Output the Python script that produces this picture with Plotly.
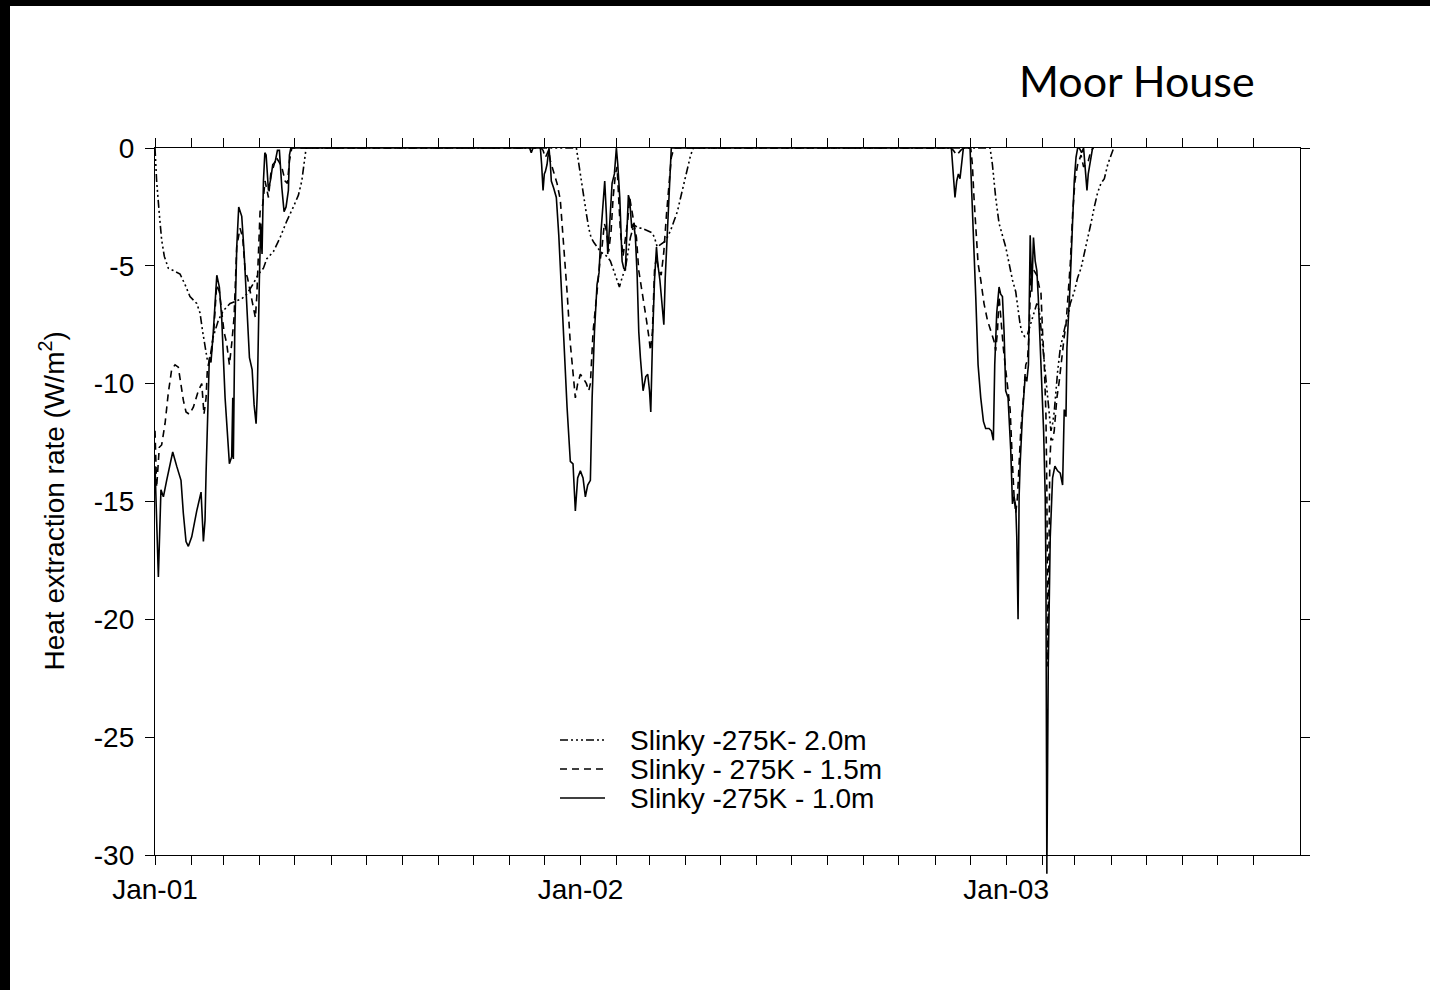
import pandas as pd
import plotly.graph_objects as go

# Heat extraction rate (W/m^2) of a slinky ground heat exchanger at Moor House,
# for three burial depths. Time is given in days from 1 Jan 2001.
START = pd.Timestamp("2001-01-01")

days_2m = [0, 1.4, 3.7, 5.7, 8, 11.4, 15.7, 21.5, 25.8, 30, 35.8, 38.6, 40.9, 42.9, 44.9,
           47.2, 50, 54.4, 58.6, 64.4, 70.1, 74.4, 78.7, 83.8, 88.7, 93, 95.9, 101.5, 107.3,
           113, 118.7, 123, 125.9, 127.9, 129.6,
           361.4, 363.4, 365.4, 367.7, 370, 372, 374, 376.3, 379.1, 382, 384.8, 387.7, 390.6,
           393.5, 396.3, 398.3, 400.6, 403.4, 405.4, 407.7, 410, 412, 414.9, 417.7, 422,
           426.3, 428.4, 430.7, 433.5, 436.4, 439.3, 442.2, 445.1, 448, 450.8, 453.7, 456.6,
           459.4, 461.7,
           716.2, 718.2, 721, 723.9, 726.8, 729.6, 732.5, 735.4, 738.2, 740.2, 742, 744, 746,
           748.3, 750.6, 752.6, 754.6, 756.3, 758.4, 760.4, 762.7, 764.1, 765.5, 767.2, 768.4,
           769.8, 771.2, 772.7, 774.1, 776.4, 778.4, 780.4, 782.7, 785, 788.4, 791.3, 794.2,
           797, 799.9, 802.7, 805.6, 808.4, 811.3, 814.2, 817.1, 820, 822.2]
rate_2m = [0, -1.4, -2.8, -3.9, -4.6, -5.1, -5.2, -5.35, -5.8, -6.3, -6.6, -7.0, -7.8, -8.5, -9.0,
           -8.9, -8.0, -7.3, -6.9, -6.6, -6.5, -6.4, -6.2, -5.8, -5.35, -5.1, -4.7, -4.4, -3.8,
           -3.1, -2.5, -2.0, -1.4, -0.7, 0,
           0, -0.7, -1.4, -2.1, -2.8, -3.4, -3.8, -4.0, -4.2, -4.4, -4.5, -4.6, -4.8,
           -5.2, -5.6, -5.9, -5.5, -5.1, -4.5, -3.8, -3.4, -3.3, -3.4, -3.4, -3.5,
           -3.6, -3.8, -4.2, -4.1, -4.0, -3.8, -3.5, -3.1, -2.7, -2.1, -1.5, -0.8,
           -0.3, 0,
           0, -0.7, -2.1, -3.2, -3.7, -4.2, -4.9, -5.6, -6.1, -6.8, -7.5, -7.9, -8.0,
           -7.9, -7.5, -7.2, -6.9, -6.6, -6.9, -8.0, -9.2, -10.0, -10.6, -11.4, -12.0,
           -11.7, -11.2, -10.3, -9.5, -8.5, -8.0, -7.6, -7.2, -6.6, -6.1, -5.5, -5.1,
           -4.5, -3.8, -3.2, -2.5, -1.9, -1.5, -1.3, -0.7, -0.3, 0]

days_15m = [0, 1.4, 3.7, 5.7, 8.6, 11.4, 14.3, 17.2, 20, 22, 24.3, 26.6, 29.5, 32.9, 37.2, 40.1,
            42, 43.8, 44.9, 46.6, 48.6, 50.6, 52.9, 55.2, 57.2, 59.2, 61.5, 63.8, 65.8, 67.8,
            70.1, 72.9, 75.2, 77.3, 79.3, 81.5, 83.8, 86.1, 87.3, 88.7, 90.1, 92.4, 94.4, 97.3,
            99.3, 101.6, 103.9, 105.9, 108.7, 111.6, 113.6, 115.3, 117.3,
            331.1, 332.8, 334.8, 337.6, 339.1, 341.9, 344.8, 347.6, 350.5, 353.4, 356.2, 358.5,
            360.5, 362.5, 364.8, 367.7, 370, 372, 373.4, 375.7, 377.7, 379.7, 381.4, 383.4,
            385.4, 387.1, 389.1, 391.2, 392.9, 394.9, 396.3, 397.7, 399.1, 401.4, 403.4, 405.4,
            407.1, 409.2, 411.2, 412.9, 414.9, 416.9, 419.2, 421.5, 423.5, 424.9, 426.6, 428.4,
            430.1, 432.1, 434.1, 436.4, 438.7, 440.8, 442.8, 445.1,
            682.4, 684.7, 687.6, 691, 693.3, 699.6, 701, 702.4, 703.9, 705.9, 708.2, 711, 713.9,
            716.7, 719.6, 721, 722.5, 723.9, 725.3, 727.6, 729.6, 731.6, 733.4, 735.4, 736.8,
            738.2, 739.7, 741.1, 742.5, 744.8, 746.8, 748.3, 749.7, 751.1, 752.6, 754, 756.3,
            758.4, 759.8, 761.2, 762.7, 764.1, 764.9, 765.8, 766.6, 767.4, 768.4, 769.8, 771.2,
            773.5, 775.5, 777, 778.4, 779.8, 781.3, 782.7, 785, 787, 789, 791.3, 794.2, 796.4,
            798.4, 800.4, 802.7, 805]
rate_15m = [-12.0, -14.4, -12.7, -12.6, -11.7, -10.4, -9.4, -9.2, -9.3, -10.0, -10.7, -11.2, -11.3,
            -11.0, -10.3, -10.0, -11.3, -10.6, -9.4, -9.0, -8.6, -7.6, -5.8, -6.1, -6.9, -7.8,
            -8.3, -9.2, -8.3, -7.2, -4.2, -3.4, -3.8, -5.2, -5.5, -6.1, -6.6, -7.2, -6.3, -4.5,
            -2.7, -2.4, -1.4, -2.1, -1.1, -0.8, -0.4, -0.55, -0.8, -1.4, -1.5, -0.55, 0,
            0, -0.1, -0.4, -0.1, -0.55, -1.0, -1.5, -2.2, -4.0, -6.1, -8.3, -9.4,
            -10.6, -10.0, -9.6, -9.8, -10.0, -10.3, -10.0, -7.8, -6.9, -5.8, -4.9, -4.2,
            -3.2, -3.5, -4.4, -3.5, -2.1, -1.1, -0.8, -2.1, -3.5, -4.6, -3.9, -3.1,
            -2.1, -2.7, -3.4, -3.8, -5.2, -5.8, -6.6, -7.3, -8.0, -8.6, -7.8, -5.2,
            -4.6, -5.2, -5.4, -4.4, -2.8, -1.4, -0.4, 0,
            0, -0.1, -0.3, -0.1, 0, 0, -0.7, -2.1, -3.5, -4.9, -5.6, -6.6, -7.3,
            -7.8, -8.2, -8.6, -7.8, -6.3, -7.2, -8.5, -9.4, -10.3, -11.1, -13.4, -14.8,
            -15.5, -14.8, -13.4, -12.0, -10.6, -9.2, -9.0, -7.8, -5.4, -5.0, -5.2, -5.4,
            -5.9, -6.1, -7.8, -9.2, -11.3, -14.5, -22.0, -16.0, -13.4, -12.3, -12.4, -12.0,
            -10.6, -9.9, -9.2, -8.5, -8.0, -7.5, -6.6, -4.9, -2.8, -1.4, -0.7, -0.3, -0.8,
            -0.7, -0.55, -0.1, 0]

days_1m = [0, 0.9, 2.9, 5.1, 7.2, 10, 12.9, 15.2, 18.6, 22.3, 24.3, 26.6, 28.6, 31.5, 35.8, 39.5,
           41.5, 42.9, 43.8, 44.9, 46.6, 48, 50, 53, 55.2, 57.2, 60.1, 63.8, 65.8, 66.7, 67.2,
           68.4, 70.1, 71.8, 74.4, 76.4, 78.7, 81, 83.3, 85, 86.7, 87.8, 89.5, 90.7, 91.8, 93,
           94.2, 95.3, 97.3, 99.3, 101, 103, 105, 106.7, 108.8, 110.7, 112.4, 114.4, 115.3, 116.5,
           321.3, 322.7, 324.2, 330.5, 331.6, 332.8, 333.9, 334.8, 336.2, 337.9, 339.1, 339.9,
           341.9, 344.2, 346.3, 347.6, 350.5, 353.4, 356.2, 358.5, 360.5, 362.5, 364.8, 367.1,
           369.1, 371.1, 373.4, 374.9, 376.9, 379.1, 380.8, 382.6, 384.3, 385.7, 387.1, 388.3,
           390, 392, 394, 395.7, 396.9, 398.6, 400.6, 402, 403.4, 404.9, 406, 407.1, 408.9,
           410.6, 412, 413.5, 414.9, 416.3, 418.6, 420.9, 422.6, 424.1, 425.2, 426.6, 428.4,
           430.1, 431.2, 433, 434.7, 436.4, 437.6, 439.3, 441.1, 442.8,
           683, 684.7, 686.1, 687.6, 689, 690.4, 691.9, 693.3, 699, 700.2, 701.9, 703.9, 705.9,
           708.2, 710.5, 712.4, 715.3, 717.3, 719, 720.2, 721.9, 723.9, 725.3, 726.8, 728.2,
           729.6, 731.6, 733.9, 735.4, 736.8, 738.2, 739.1, 740.2, 741.1, 742, 744, 746.3,
           747.7, 749.1, 750.6, 752, 753.4, 754.9, 756.3, 757.5, 759.8, 762.1, 763.5, 764.1,
           764.9, 766.1, 767.8, 769.8, 771.8, 774.1, 776.4, 778.4, 779.8, 781.3, 782.1, 783.3,
           785, 787, 788.4, 789.9, 791.3, 792.7, 794.7, 796.4, 797.6, 799.3, 800.4, 802.1, 804.1]
rate_1m = [-13.5, -14.8, -18.2, -14.5, -14.8, -14.1, -13.4, -12.9, -13.5, -14.1, -15.5, -16.7,
           -16.9, -16.5, -15.4, -14.6, -16.7, -15.8, -13.8, -12.0, -8.9, -9.1, -7.8, -5.4, -5.9,
           -7.2, -10.6, -13.4, -13.1, -10.6, -13.2, -7.8, -4.2, -2.5, -2.9, -4.4, -7.0, -8.9,
           -9.4, -10.9, -11.7, -10.3, -5.6, -3.2, -4.5, -1.4, -0.2, -0.3, -1.8, -1.3, -0.7, -0.6,
           -0.1, -0.1, -1.7, -2.7, -2.5, -1.8, -0.3, 0,
           0, -0.2, 0, 0, -0.7, -1.8, -1.1, -1.0, -0.7, 0, -0.7, -1.4,
           -1.7, -2.1, -3.7, -4.9, -8.0, -11.0, -13.3, -13.4, -15.4, -14.0, -13.7, -14.0,
           -14.8, -14.3, -14.1, -10.6, -7.8, -5.8, -5.3, -3.5, -2.1, -1.4, -2.8, -4.5,
           -3.2, -1.5, -1.1, 0, -0.7, -2.1, -4.8, -5.1, -5.2, -3.5, -2.0, -2.2, -3.4,
           -3.2, -3.8, -5.4, -7.8, -8.9, -10.3, -9.7, -9.6, -10.3, -11.2, -8.3, -5.6,
           -4.2, -4.9, -5.6, -6.6, -7.5, -5.5, -3.5, -1.5, 0,
           0, -1.0, -2.1, -1.4, -1.1, -1.3, -0.7, 0, 0, -1.4, -3.5, -6.3, -9.2,
           -10.6, -11.6, -11.9, -11.9, -12.0, -12.4, -9.2, -7.0, -5.9, -6.2, -6.3, -7.8,
           -10.3, -10.6, -12.8, -15.1, -14.8, -15.2, -16.5, -20.0, -14.8, -13.4, -11.3, -9.7,
           -9.9, -9.2, -3.7, -6.1, -3.8, -4.8, -5.2, -6.3, -9.2, -12.0, -14.8, -18.0,
           -30.8, -22.0, -16.5, -14.0, -13.5, -13.7, -13.8, -14.3, -11.1, -11.4, -8.5, -7.5,
           -5.6, -3.1, -1.4, -0.4, 0, 0, -0.2, 0, -0.8, -1.8, -1.1, -0.5, 0]

series = [
    ("Slinky -275K- 2.0m", days_2m, rate_2m, "8px,3px,2px,3px,2px,3px,2px,3px"),
    ("Slinky - 275K - 1.5m", days_15m, rate_15m, "7px,5px"),
    ("Slinky -275K - 1.0m", days_1m, rate_1m, "solid"),
]

X_END = pd.Timestamp("2003-09-10")
Y_MIN, Y_MAX = -30, 0
y_ticks = list(range(-30, 1, 5))
y_tick_text = [str(v) for v in y_ticks]

# Canvas and plot-area geometry in pixels
W, H = 1430, 990
L, R, T, B = 155, 1300, 148, 855


def to_dates(days):
    return START + pd.to_timedelta(days, unit="D")


def px_x(px):
    return (px - L) / (R - L)


def px_y(py):
    return (B - py) / (B - T)


FONT = "Liberation Sans, Arial, Helvetica, sans-serif"

fig = go.Figure()
for name, days, rates, dash in series:
    fig.add_trace(go.Scatter(
        x=to_dates(days), y=rates, name=name, mode="lines", showlegend=False,
        line=dict(color="black", width=1.6, dash=dash),
    ))

# The deepest 1.0 m value runs past the bottom of the axis
i_min = rate_1m.index(min(rate_1m))
if rate_1m[i_min] < Y_MIN:
    x_min = to_dates([days_1m[i_min]])[0]
    fig.add_shape(type="line", xref="x", yref="paper",
                  x0=x_min, x1=x_min, y0=0,
                  y1=(rate_1m[i_min] - Y_MIN) / (Y_MAX - Y_MIN),
                  line=dict(color="black", width=1.6))

# Key: line sample followed by the series name, one row per series
KEY_X0, KEY_X1, KEY_TEXT_X = 560, 605, 628
KEY_ROW0, KEY_ROW_STEP = 740, 29
for k, (name, _, _, dash) in enumerate(series):
    row_y = px_y(KEY_ROW0 + k * KEY_ROW_STEP)
    fig.add_shape(type="line", xref="paper", yref="paper",
                  x0=px_x(KEY_X0), x1=px_x(KEY_X1), y0=row_y, y1=row_y,
                  line=dict(color="black", width=1.4, dash=dash))
    fig.add_annotation(text=name, xref="paper", yref="paper",
                       x=px_x(KEY_TEXT_X), y=row_y, xanchor="left", yanchor="middle",
                       showarrow=False, font=dict(family=FONT, size=28, color="black"))

month_ticks = pd.date_range(START, "2003-08-01", freq="MS")
month_text = [d.strftime("%b-%y") if d.month == 1 else "" for d in month_ticks]

axis_common = dict(
    showline=True, linecolor="black", linewidth=1.3, mirror="ticks",
    ticks="outside", tickcolor="black", tickwidth=1.3,
    showgrid=False, zeroline=False,
    tickfont=dict(family=FONT, size=28, color="black"),
)

fig.update_layout(
    width=W, height=H,
    margin=dict(l=L, r=W - R, t=T, b=H - B, pad=0),
    paper_bgcolor="white", plot_bgcolor="white",
    xaxis=dict(type="date", range=[START, X_END], tickvals=month_ticks,
               ticktext=month_text, ticklen=9, ticklabelstandoff=0, **axis_common),
    yaxis=dict(range=[Y_MIN, Y_MAX], tickvals=y_ticks, ticktext=y_tick_text,
               ticklen=9, ticklabelstandoff=5, **axis_common),
    showlegend=False,
)

fig.add_annotation(text="Moor House", xref="paper", yref="paper",
                   x=px_x(1257), y=px_y(81), xanchor="right", yanchor="middle",
                   showarrow=False, font=dict(family="Lato, Open Sans, sans-serif",
                                              size=43, color="black"))
fig.add_annotation(text="Heat extraction rate (W/m<sup>2</sup>)", xref="paper", yref="paper",
                   x=px_x(52), y=0.5, xanchor="center", yanchor="middle", textangle=-90,
                   showarrow=False, font=dict(family=FONT, size=28, color="black"))

# Black frame strips along the top and left edges of the page
fig.add_shape(type="rect", xref="paper", yref="paper", layer="above",
              x0=px_x(0), x1=px_x(10), y0=px_y(H), y1=px_y(0),
              fillcolor="black", line=dict(width=0))
fig.add_shape(type="rect", xref="paper", yref="paper", layer="above",
              x0=px_x(0), x1=px_x(W), y0=px_y(6), y1=px_y(0),
              fillcolor="black", line=dict(width=0))

fig.write_html("out.html")
